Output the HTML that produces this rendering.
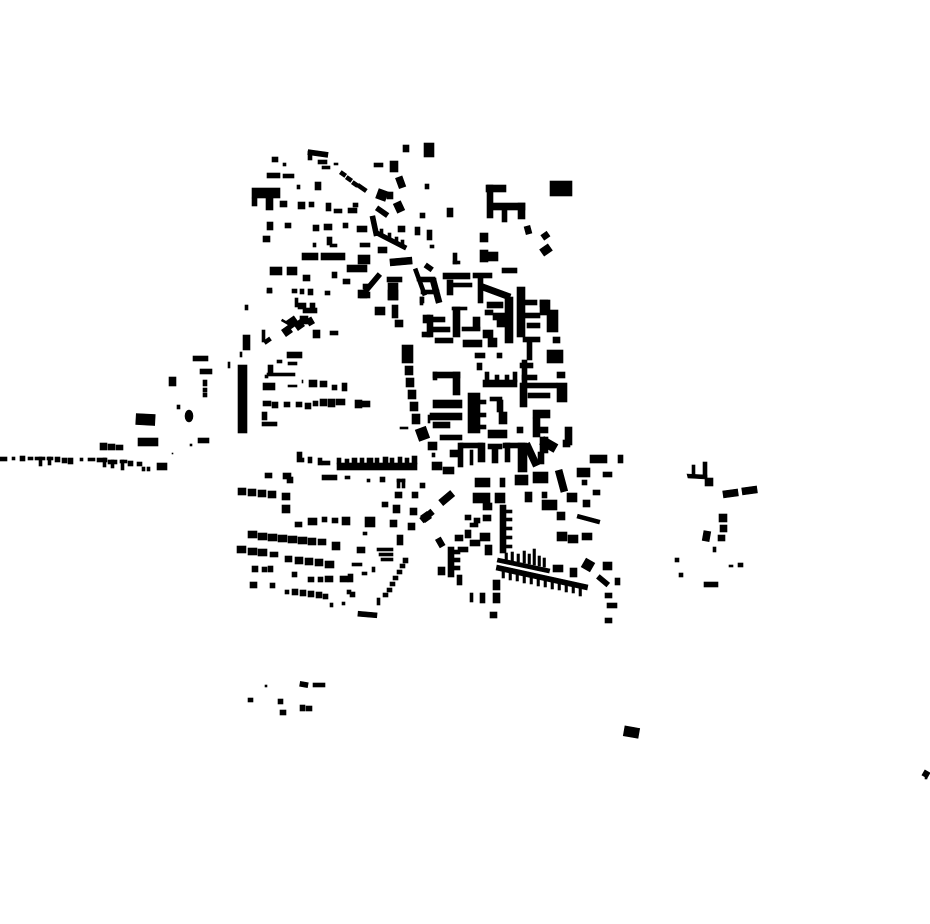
<!DOCTYPE html>
<html><head><meta charset="utf-8"><style>html,body{margin:0;padding:0;background:#fff}svg{display:block}</style></head>
<body>
<svg width="930" height="924" viewBox="0 0 930 924" xmlns="http://www.w3.org/2000/svg">
<rect width="930" height="924" fill="#fff"/>
<g fill="#000" stroke="#000" stroke-width="0.6">
<!-- far left row -->
<rect x="0" y="457" width="7" height="4"/><rect x="12" y="457" width="3" height="3"/><rect x="20" y="456" width="5" height="5"/><rect x="28" y="457" width="5" height="3"/>
<rect x="35" y="457" width="10" height="3"/><rect x="39" y="457" width="3" height="9"/><rect x="47" y="457" width="6" height="3"/><rect x="48" y="457" width="3" height="8"/>
<rect x="55" y="457" width="5" height="5"/><rect x="62" y="458" width="5" height="5"/><rect x="68" y="458" width="5" height="6"/><rect x="80" y="458" width="3" height="3"/>
<rect x="88" y="458" width="7" height="3"/><rect x="97" y="458" width="10" height="4"/><rect x="103" y="458" width="3" height="9"/><rect x="108" y="460" width="9" height="4"/><rect x="111" y="460" width="3" height="8"/>
<rect x="120" y="460" width="7" height="3"/><rect x="121" y="460" width="3" height="10"/><rect x="128" y="461" width="5" height="5"/><rect x="137" y="462" width="5" height="4"/><rect x="142" y="467" width="3" height="4"/><rect x="147" y="467" width="3" height="4"/><rect x="157" y="463" width="10" height="7"/>
<!-- left scattered -->
<rect x="193" y="356" width="15" height="5"/><rect x="200" y="369" width="12" height="5"/><rect x="228" y="362" width="2" height="6"/>
<rect x="203" y="380" width="4" height="6"/><rect x="203" y="388" width="4" height="4"/><rect x="203" y="393" width="4" height="4"/>
<rect x="169" y="377" width="7" height="9"/><rect x="177" y="405" width="3" height="4"/><ellipse cx="189" cy="416" rx="4" ry="6"/>
<rect x="136" y="414" width="19" height="11" transform="rotate(3 145 419)"/>
<rect x="138" y="438" width="20" height="8"/><rect x="100" y="443" width="7" height="7"/><rect x="108" y="444" width="7" height="6"/><rect x="116" y="445" width="7" height="5"/>
<rect x="190" y="444" width="2" height="2"/><rect x="198" y="438" width="11" height="5"/><rect x="172" y="453" width="1" height="1"/>
<!-- top NW -->
<rect x="403" y="145" width="6" height="7"/><rect x="424" y="143" width="10" height="14"/>
<rect x="272" y="157" width="6" height="5"/><rect x="283" y="163" width="3" height="3"/>
<rect x="308" y="151" width="20" height="5" transform="rotate(8 318 153)"/><rect x="308" y="151" width="4" height="9"/>
<rect x="318" y="160" width="9" height="4"/><rect x="322" y="166" width="8" height="3"/><rect x="334" y="163" width="4" height="2"/>
<rect x="340" y="172" width="6" height="4" transform="rotate(35 343 174)"/><rect x="346" y="177" width="6" height="4" transform="rotate(35 349 179)"/><rect x="352" y="182" width="6" height="4" transform="rotate(35 355 184)"/><rect x="357" y="186" width="10" height="4" transform="rotate(35 362 188)"/>
<rect x="374" y="163" width="9" height="4"/><rect x="390" y="161" width="8" height="11"/>
<rect x="397" y="177" width="7" height="11" transform="rotate(-20 400 182)"/><rect x="425" y="184" width="4" height="5"/>
<rect x="252" y="188" width="28" height="10"/><rect x="252" y="198" width="5" height="8"/><rect x="266" y="198" width="7" height="12"/>
<rect x="267" y="173" width="13" height="5"/><rect x="283" y="174" width="11" height="4"/><rect x="297" y="185" width="3" height="4"/><rect x="315" y="182" width="6" height="8"/>
<rect x="280" y="201" width="7" height="6"/><rect x="298" y="202" width="7" height="7"/><rect x="309" y="202" width="5" height="5"/><rect x="326" y="203" width="5" height="8"/>
<rect x="334" y="209" width="8" height="4"/><rect x="348" y="208" width="9" height="5"/><rect x="353" y="203" width="5" height="4"/>
<rect x="377" y="190" width="10" height="10" transform="rotate(20 382 195)"/><rect x="387" y="192" width="6" height="7"/>
<rect x="395" y="202" width="8" height="10" transform="rotate(-25 399 207)"/>
<rect x="376" y="209" width="13" height="5" transform="rotate(35 382 211)"/><rect x="420" y="213" width="5" height="5"/>
<rect x="267" y="222" width="6" height="8"/><rect x="285" y="223" width="6" height="5"/><rect x="313" y="225" width="6" height="6"/><rect x="324" y="224" width="8" height="6"/>
<rect x="343" y="223" width="5" height="5"/><rect x="357" y="226" width="10" height="6"/>
<rect x="372" y="216" width="5" height="20" transform="rotate(-12 374 226)"/>
<polygon points="376,230 407,246 405,250 374,234"/>
<rect x="380" y="229" width="3" height="6"/><rect x="388" y="233" width="3" height="6"/><rect x="395" y="237" width="3" height="6"/><rect x="401" y="240" width="3" height="6"/>
<rect x="398" y="226" width="7" height="6"/><rect x="415" y="227" width="5" height="8"/><rect x="427" y="230" width="5" height="10"/><rect x="430" y="245" width="4" height="3"/>
<rect x="263" y="236" width="7" height="6"/><rect x="313" y="243" width="3" height="4"/><rect x="327" y="237" width="5" height="8"/><rect x="330" y="244" width="7" height="3"/>
<rect x="302" y="253" width="16" height="7"/><rect x="321" y="253" width="24" height="7"/>
<rect x="358" y="255" width="12" height="9"/><rect x="360" y="243" width="10" height="4"/><rect x="378" y="247" width="9" height="6"/>
<rect x="390" y="258" width="22" height="7" transform="rotate(-5 401 261)"/><rect x="347" y="265" width="20" height="7"/>
<rect x="270" y="267" width="12" height="8"/><rect x="287" y="267" width="10" height="8"/><rect x="303" y="275" width="7" height="6"/>
<rect x="332" y="272" width="5" height="6"/><rect x="343" y="279" width="7" height="5"/>
<rect x="362" y="280" width="22" height="5" transform="rotate(-50 373 283)"/><rect x="363" y="284" width="7" height="5"/>
<rect x="388" y="283" width="10" height="17"/><rect x="387" y="277" width="15" height="5"/>
<rect x="418" y="268" width="4" height="28" transform="rotate(-20 420 282)"/><rect x="420" y="278" width="16" height="4"/><rect x="421" y="290" width="18" height="4"/>
<rect x="267" y="288" width="5" height="5"/><rect x="292" y="289" width="5" height="4"/><rect x="300" y="289" width="4" height="5"/><rect x="308" y="289" width="5" height="6"/><rect x="325" y="291" width="5" height="4"/>
<rect x="360" y="292" width="10" height="6"/>
<!-- NE top -->
<rect x="550" y="181" width="22" height="15"/>
<rect x="486" y="185" width="20" height="7"/><rect x="487" y="185" width="6" height="33"/><rect x="493" y="203" width="32" height="7"/><rect x="502" y="205" width="5" height="17"/><rect x="518" y="203" width="7" height="16"/>
<rect x="447" y="208" width="6" height="9"/><rect x="525" y="226" width="6" height="8" transform="rotate(-15 528 230)"/>
<rect x="542" y="233" width="7" height="6" transform="rotate(-35 545 236)"/><rect x="541" y="246" width="10" height="8" transform="rotate(-35 546 250)"/>
<rect x="480" y="233" width="8" height="9"/><rect x="480" y="250" width="8" height="12"/><rect x="488" y="252" width="10" height="9"/>
<rect x="453" y="253" width="4" height="11"/><rect x="453" y="261" width="7" height="3"/><rect x="502" y="268" width="15" height="5"/>
<!-- core -->
<rect x="425" y="265" width="8" height="5" transform="rotate(35 429 267)"/>
<rect x="417" y="277" width="18" height="4"/><rect x="420" y="297" width="4" height="6"/>
<rect x="433" y="280" width="6" height="23" transform="rotate(-15 436 291)"/>
<rect x="443" y="273" width="27" height="6"/><rect x="447" y="280" width="6" height="15"/><rect x="452" y="283" width="20" height="4"/>
<rect x="473" y="273" width="19" height="5"/><rect x="478" y="277" width="5" height="26"/>
<polygon points="481,283 511,294 509,300 479,289"/>
<rect x="487" y="302" width="16" height="6"/><rect x="505" y="297" width="8" height="46"/>
<rect x="517" y="287" width="8" height="50"/><rect x="525" y="300" width="12" height="5"/><rect x="525" y="313" width="15" height="5"/><rect x="527" y="323" width="13" height="5"/>
<rect x="540" y="300" width="10" height="15"/><rect x="547" y="310" width="11" height="22"/><rect x="553" y="337" width="7" height="6"/>
<rect x="452" y="307" width="15" height="3"/><rect x="453" y="307" width="7" height="30"/><rect x="462" y="327" width="18" height="4"/><rect x="473" y="317" width="7" height="13"/>
<rect x="425" y="317" width="20" height="5"/><rect x="427" y="315" width="6" height="22"/><rect x="433" y="327" width="17" height="5"/><rect x="435" y="338" width="18" height="5"/>
<rect x="485" y="310" width="8" height="5"/><rect x="493" y="313" width="12" height="7"/><rect x="497" y="320" width="8" height="7"/>
<rect x="483" y="330" width="10" height="8"/><rect x="488" y="338" width="9" height="9"/>
<rect x="463" y="340" width="19" height="7"/><rect x="523" y="337" width="17" height="5"/><rect x="527" y="340" width="5" height="20"/>
<!-- core left curve -->
<rect x="402" y="345" width="11" height="18"/><rect x="405" y="366" width="8" height="9"/><rect x="406" y="378" width="8" height="9"/><rect x="408" y="390" width="8" height="9"/>
<rect x="410" y="402" width="8" height="9"/><rect x="412" y="414" width="8" height="10"/><rect x="417" y="428" width="11" height="12" transform="rotate(-20 422 434)"/>
<rect x="428" y="442" width="9" height="8"/><rect x="432" y="453" width="3" height="4"/><rect x="432" y="462" width="10" height="8"/><rect x="443" y="467" width="11" height="7"/>
<rect x="400" y="427" width="8" height="2"/><rect x="428" y="415" width="2" height="8"/>
<!-- core middle -->
<rect x="433" y="372" width="27" height="6"/><rect x="433" y="372" width="4" height="8"/><rect x="453" y="372" width="7" height="23"/>
<rect x="475" y="353" width="10" height="5"/><rect x="477" y="363" width="5" height="7"/><rect x="497" y="353" width="5" height="5"/>
<rect x="483" y="380" width="34" height="7"/><rect x="485" y="372" width="4" height="10"/><rect x="495" y="375" width="4" height="8"/><rect x="505" y="375" width="4" height="8"/><rect x="513" y="372" width="4" height="10"/>
<rect x="520" y="363" width="13" height="5"/><rect x="522" y="360" width="5" height="23"/><rect x="522" y="375" width="15" height="5"/>
<rect x="540" y="300" width="8" height="7"/><rect x="547" y="350" width="16" height="13"/><rect x="557" y="372" width="8" height="6"/>
<rect x="520" y="383" width="7" height="24"/><rect x="527" y="383" width="30" height="5"/><rect x="557" y="383" width="10" height="19"/><rect x="528" y="393" width="22" height="5"/>
<rect x="468" y="393" width="12" height="40"/><rect x="480" y="400" width="6" height="4"/><rect x="480" y="413" width="6" height="4"/><rect x="480" y="425" width="6" height="4"/>
<rect x="490" y="397" width="12" height="4"/><rect x="497" y="400" width="6" height="12"/><rect x="499" y="412" width="8" height="12"/><rect x="488" y="430" width="19" height="8"/>
<rect x="433" y="400" width="29" height="8"/><rect x="430" y="413" width="32" height="7"/><rect x="433" y="422" width="17" height="6"/><rect x="440" y="435" width="22" height="5"/>
<rect x="533" y="410" width="17" height="8"/><rect x="533" y="418" width="7" height="19"/><rect x="540" y="427" width="8" height="6"/>
<rect x="540" y="437" width="8" height="16"/><rect x="565" y="427" width="7" height="18"/><rect x="517" y="427" width="6" height="6"/>
<!-- T row -->
<rect x="460" y="443" width="23" height="5"/><rect x="488" y="444" width="14" height="5"/><rect x="503" y="443" width="22" height="5"/>
<rect x="458" y="443" width="5" height="24"/><rect x="470" y="450" width="3" height="15"/><rect x="478" y="443" width="7" height="19"/><rect x="492" y="445" width="6" height="18"/><rect x="505" y="443" width="5" height="19"/><rect x="518" y="443" width="9" height="29"/>
<rect x="528" y="443" width="7" height="24" transform="rotate(-25 531 455)"/><rect x="538" y="452" width="6" height="12"/>
<rect x="541" y="440" width="16" height="9" transform="rotate(30 549 444)"/><rect x="563" y="440" width="7" height="7"/>
<rect x="450" y="450" width="10" height="7"/><rect x="590" y="455" width="17" height="8"/><rect x="618" y="455" width="5" height="8"/>
<rect x="475" y="478" width="15" height="9"/><rect x="500" y="478" width="5" height="9"/><rect x="515" y="475" width="13" height="10"/><rect x="533" y="472" width="15" height="11"/>
<rect x="558" y="470" width="7" height="22" transform="rotate(-15 561 481)"/><rect x="577" y="468" width="13" height="9"/><rect x="582" y="480" width="5" height="5"/><rect x="603" y="472" width="9" height="5"/>
<rect x="439" y="495" width="15" height="7" transform="rotate(-40 446 498)"/>
<rect x="473" y="493" width="17" height="10"/><rect x="483" y="503" width="9" height="7"/><rect x="495" y="493" width="10" height="10"/><rect x="525" y="492" width="7" height="10"/>
<rect x="542" y="500" width="15" height="10"/><rect x="542" y="492" width="5" height="6"/><rect x="567" y="493" width="10" height="9"/><rect x="583" y="500" width="7" height="7"/><rect x="593" y="490" width="7" height="5"/>
<rect x="557" y="512" width="8" height="8"/><rect x="577" y="517" width="23" height="4" transform="rotate(15 588 519)"/>
<rect x="420" y="513" width="14" height="6" transform="rotate(-40 427 516)"/>
<rect x="465" y="515" width="6" height="5"/><rect x="474" y="518" width="6" height="5"/><rect x="483" y="515" width="8" height="6"/><rect x="470" y="523" width="8" height="4"/>
<rect x="500" y="505" width="6" height="48"/><rect x="506" y="510" width="6" height="3"/><rect x="506" y="518" width="6" height="3"/><rect x="506" y="527" width="6" height="3"/><rect x="506" y="536" width="6" height="3"/><rect x="506" y="545" width="6" height="3"/>
<rect x="455" y="535" width="8" height="6"/><rect x="465" y="530" width="6" height="8"/><rect x="470" y="540" width="10" height="6"/><rect x="480" y="533" width="10" height="8"/><rect x="485" y="545" width="7" height="10"/><rect x="458" y="547" width="10" height="5"/>
<rect x="437" y="538" width="6" height="9" transform="rotate(-30 440 542)"/>
<rect x="448" y="547" width="6" height="30"/><rect x="452" y="550" width="8" height="4"/><rect x="452" y="558" width="8" height="4"/><rect x="452" y="566" width="8" height="4"/>
<rect x="557" y="532" width="10" height="9"/><rect x="568" y="535" width="10" height="8"/><rect x="582" y="533" width="10" height="7"/>
<!-- combs -->
<polygon points="498,558 550,569 549,573 497,562"/>
<rect x="505" y="553" width="2.5" height="7"/><rect x="511" y="552" width="2.5" height="9"/><rect x="517" y="554" width="2.5" height="8"/><rect x="523" y="551" width="2.5" height="12"/><rect x="528" y="554" width="2.5" height="10"/><rect x="533" y="549" width="2.5" height="16"/><rect x="538" y="556" width="2.5" height="10"/><rect x="543" y="558" width="2.5" height="9"/>
<polygon points="497,565 588,585 587,590 496,570"/>
<rect x="502" y="570" width="2.5" height="8"/><rect x="509" y="572" width="2.5" height="8"/><rect x="516" y="573" width="2.5" height="8"/><rect x="523" y="575" width="2.5" height="8"/><rect x="530" y="576" width="2.5" height="8"/><rect x="537" y="578" width="2.5" height="8"/><rect x="544" y="579" width="2.5" height="8"/><rect x="551" y="581" width="2.5" height="8"/><rect x="558" y="582" width="2.5" height="8"/><rect x="565" y="584" width="2.5" height="8"/><rect x="572" y="585" width="2.5" height="8"/><rect x="579" y="587" width="2.5" height="9"/>
<rect x="553" y="565" width="10" height="7"/><rect x="570" y="568" width="7" height="9"/><rect x="583" y="560" width="10" height="10" transform="rotate(30 588 565)"/><rect x="603" y="562" width="9" height="8"/>
<rect x="597" y="578" width="13" height="5" transform="rotate(40 603 580)"/><rect x="615" y="578" width="5" height="7"/>
<rect x="605" y="593" width="7" height="5"/><rect x="607" y="603" width="10" height="5"/><rect x="605" y="618" width="7" height="5"/>
<rect x="438" y="567" width="7" height="8"/><rect x="457" y="575" width="5" height="10"/>
<rect x="470" y="593" width="3" height="9"/><rect x="480" y="593" width="5" height="10"/><rect x="493" y="593" width="7" height="10"/><rect x="490" y="612" width="7" height="6"/><rect x="493" y="580" width="7" height="10"/>
<!-- south-west -->
<rect x="297" y="452" width="5" height="10"/><rect x="302" y="458" width="2" height="4"/><rect x="308" y="457" width="4" height="6"/><rect x="318" y="458" width="4" height="7"/><rect x="322" y="461" width="8" height="4"/>
<rect x="337" y="463" width="80" height="7"/>
<rect x="337" y="458" width="4" height="6"/><rect x="345" y="459" width="4" height="5"/><rect x="352" y="458" width="5" height="6"/><rect x="360" y="458" width="4" height="6"/><rect x="367" y="458" width="6" height="6"/><rect x="375" y="458" width="4" height="6"/><rect x="383" y="457" width="5" height="7"/><rect x="390" y="458" width="4" height="6"/><rect x="398" y="457" width="4" height="7"/><rect x="405" y="458" width="4" height="6"/><rect x="412" y="456" width="5" height="8"/>
<rect x="265" y="473" width="7" height="5"/><rect x="283" y="473" width="8" height="6"/><rect x="287" y="477" width="6" height="6"/><rect x="322" y="475" width="15" height="5"/><rect x="345" y="476" width="5" height="3"/>
<rect x="367" y="479" width="3" height="3"/><rect x="380" y="477" width="5" height="5"/><rect x="397" y="479" width="3" height="9"/><rect x="397" y="479" width="8" height="3"/><rect x="402" y="479" width="3" height="9"/><rect x="420" y="483" width="5" height="5"/>
<rect x="238" y="488" width="8" height="7"/><rect x="248" y="489" width="8" height="7"/><rect x="258" y="490" width="8" height="7"/><rect x="268" y="491" width="8" height="7"/><rect x="282" y="493" width="8" height="7"/>
<rect x="282" y="505" width="8" height="8"/><rect x="395" y="492" width="7" height="6"/><rect x="412" y="492" width="6" height="6"/><rect x="382" y="502" width="6" height="5"/><rect x="393" y="505" width="7" height="8"/><rect x="410" y="508" width="7" height="7"/>
<rect x="422" y="513" width="8" height="8" transform="rotate(-35 426 517)"/>
<rect x="295" y="522" width="7" height="5"/><rect x="308" y="518" width="9" height="7"/><rect x="322" y="517" width="5" height="5"/><rect x="332" y="518" width="6" height="5"/><rect x="342" y="517" width="8" height="8"/><rect x="365" y="517" width="10" height="10"/><rect x="390" y="520" width="7" height="7"/><rect x="408" y="523" width="7" height="7"/>
<rect x="248" y="531" width="9" height="7"/><rect x="258" y="533" width="9" height="7"/><rect x="268" y="534" width="9" height="7"/><rect x="278" y="535" width="9" height="7"/><rect x="288" y="536" width="9" height="7"/><rect x="298" y="537" width="9" height="7"/><rect x="308" y="538" width="8" height="7"/><rect x="318" y="539" width="8" height="6"/><rect x="332" y="542" width="8" height="8"/>
<rect x="357" y="547" width="8" height="6"/><rect x="363" y="532" width="4" height="3"/><rect x="397" y="535" width="6" height="10"/>
<rect x="377" y="548" width="16" height="3"/><rect x="379" y="553" width="14" height="3"/><rect x="381" y="558" width="12" height="3"/>
<rect x="237" y="546" width="9" height="7"/><rect x="248" y="548" width="9" height="7"/><rect x="258" y="549" width="9" height="7"/><rect x="270" y="552" width="8" height="5"/>
<rect x="285" y="556" width="7" height="6"/><rect x="295" y="557" width="8" height="7"/><rect x="305" y="558" width="8" height="7"/><rect x="315" y="559" width="8" height="7"/><rect x="325" y="561" width="9" height="7"/>
<rect x="352" y="563" width="10" height="3"/><rect x="362" y="572" width="5" height="3"/><rect x="372" y="567" width="3" height="5"/>
<rect x="252" y="566" width="6" height="6"/><rect x="262" y="567" width="5" height="5"/><rect x="268" y="566" width="5" height="6"/><rect x="292" y="572" width="5" height="5"/>
<rect x="308" y="577" width="6" height="5"/><rect x="318" y="577" width="5" height="5"/><rect x="325" y="576" width="8" height="6"/><rect x="340" y="576" width="8" height="6"/><rect x="348" y="574" width="5" height="8"/>
<rect x="250" y="582" width="7" height="6"/><rect x="270" y="583" width="5" height="5"/>
<rect x="285" y="590" width="4" height="4"/><rect x="292" y="589" width="6" height="6"/><rect x="300" y="590" width="6" height="6"/><rect x="308" y="591" width="6" height="6"/><rect x="316" y="592" width="6" height="6"/><rect x="323" y="594" width="5" height="5"/>
<rect x="330" y="603" width="3" height="4"/><rect x="342" y="602" width="3" height="3"/><rect x="347" y="590" width="4" height="4"/><rect x="350" y="592" width="5" height="5"/><rect x="377" y="598" width="3" height="7"/>
<rect x="403" y="558" width="5" height="5"/><rect x="400" y="564" width="5" height="4"/><rect x="397" y="570" width="5" height="4"/><rect x="393" y="576" width="5" height="4"/><rect x="390" y="582" width="5" height="4"/><rect x="387" y="588" width="5" height="4"/><rect x="383" y="593" width="5" height="4"/>
<rect x="358" y="612" width="19" height="5" transform="rotate(5 367 614)"/>
<!-- west middle -->
<rect x="245" y="305" width="3" height="5"/><rect x="267" y="290" width="5" height="3"/><rect x="295" y="298" width="3" height="9"/>
<rect x="298" y="303" width="8" height="6"/><rect x="303" y="308" width="14" height="5"/><rect x="310" y="303" width="5" height="5"/>
<rect x="287" y="318" width="10" height="9" transform="rotate(-35 292 322)"/><rect x="283" y="327" width="8" height="8" transform="rotate(-35 287 331)"/><rect x="295" y="321" width="8" height="8" transform="rotate(-35 299 325)"/><rect x="300" y="316" width="8" height="8"/>
<rect x="281" y="322" width="12" height="2" transform="rotate(30 287 323)"/>
<rect x="307" y="318" width="6" height="7" transform="rotate(-30 310 321)"/><rect x="313" y="330" width="7" height="8"/><rect x="330" y="331" width="8" height="4"/>
<rect x="262" y="330" width="3" height="12"/><rect x="264" y="339" width="7" height="4" transform="rotate(-35 267 341)"/>
<rect x="243" y="335" width="7" height="15"/><rect x="240" y="352" width="2" height="5"/><rect x="238" y="365" width="9" height="68"/>
<rect x="277" y="360" width="5" height="3"/><rect x="287" y="352" width="15" height="6"/><rect x="288" y="362" width="9" height="3"/>
<rect x="268" y="365" width="5" height="10"/><rect x="267" y="373" width="28" height="3"/><rect x="265" y="375" width="3" height="3"/>
<rect x="263" y="383" width="12" height="7"/><rect x="288" y="385" width="9" height="2"/><rect x="302" y="380" width="1" height="3"/>
<rect x="309" y="380" width="8" height="7"/><rect x="320" y="381" width="7" height="6"/><rect x="332" y="385" width="5" height="5"/><rect x="342" y="383" width="5" height="8"/>
<rect x="263" y="401" width="8" height="5"/><rect x="272" y="402" width="6" height="6"/><rect x="284" y="402" width="6" height="5"/><rect x="296" y="402" width="6" height="5"/><rect x="305" y="403" width="6" height="6"/><rect x="313" y="401" width="5" height="5"/><rect x="320" y="399" width="7" height="7"/><rect x="328" y="399" width="7" height="8"/><rect x="336" y="399" width="9" height="6"/>
<rect x="355" y="400" width="7" height="8"/><rect x="362" y="401" width="8" height="6"/>
<rect x="262" y="412" width="5" height="8"/><rect x="262" y="422" width="15" height="4"/>
<rect x="358" y="290" width="9" height="8"/><rect x="375" y="307" width="10" height="8"/><rect x="392" y="305" width="6" height="13"/><rect x="395" y="320" width="8" height="7"/>
<rect x="420" y="297" width="3" height="8"/><rect x="423" y="315" width="7" height="8"/><rect x="422" y="332" width="8" height="5"/><rect x="388" y="290" width="10" height="10"/>
<!-- east -->
<rect x="692" y="465" width="3" height="12"/><rect x="703" y="462" width="4" height="16"/><polygon points="687,474 707,475 707,479 688,478"/><rect x="705" y="478" width="8" height="8"/>
<rect x="723" y="490" width="15" height="7" transform="rotate(-8 730 493)"/><rect x="742" y="487" width="15" height="7" transform="rotate(-8 749 490)"/>
<rect x="719" y="514" width="8" height="8"/><rect x="720" y="525" width="7" height="7"/><rect x="718" y="535" width="7" height="6"/><rect x="703" y="531" width="7" height="10" transform="rotate(10 706 536)"/>
<rect x="713" y="547" width="3" height="5"/><rect x="675" y="558" width="4" height="4"/><rect x="679" y="573" width="4" height="4"/><rect x="704" y="582" width="14" height="5"/>
<rect x="729" y="565" width="4" height="2"/><rect x="738" y="563" width="5" height="4"/>
<!-- far south -->
<rect x="265" y="685" width="2" height="2"/><rect x="248" y="698" width="5" height="4"/><rect x="278" y="699" width="5" height="5"/><rect x="280" y="710" width="6" height="5"/>
<rect x="300" y="682" width="8" height="5" transform="rotate(10 304 684)"/><rect x="313" y="683" width="12" height="4"/><rect x="300" y="705" width="5" height="6"/><rect x="306" y="706" width="6" height="5"/>
<rect x="624" y="727" width="15" height="10" transform="rotate(10 631 732)"/>
<rect x="923" y="771" width="6" height="6" transform="rotate(30 926 774)"/><rect x="925" y="777" width="2" height="2"/>
</g>
</svg>
</body></html>
